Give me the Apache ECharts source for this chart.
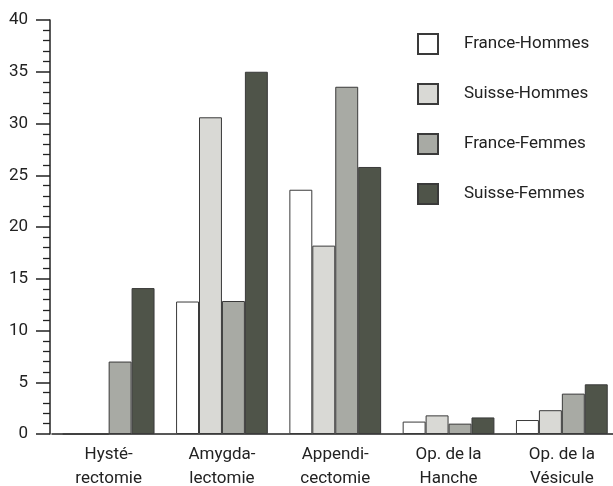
<!DOCTYPE html>
<html>
<head>
<meta charset="utf-8">
<script src="https://cdn.jsdelivr.net/npm/echarts@6/dist/echarts.min.js"></script>
<style>
  html, body { margin: 0; padding: 0; background: #ffffff; }
  #chart { width: 613px; height: 486px; }
</style>
</head>
<body>
<div id="chart"></div>
<script>
// Operation categories (two-line labels)
const categories = ['Hysté-\nrectomie', 'Amygda-\nlectomie', 'Appendi-\ncectomie', 'Op. de la\nHanche', 'Op. de la\nVésicule'];

// Series names
const seriesNames = ['France-Hommes', 'Suisse-Hommes', 'France-Femmes', 'Suisse-Femmes'];

// Values per series, one per category
const franceHommes = [0, 12.8, 23.6, 1.2, 1.35];
const suisseHommes = [0, 30.6, 18.2, 1.8, 2.3];
const franceFemmes = [7.0, 12.85, 33.55, 1.0, 3.9];
const suisseFemmes = [14.1, 35.0, 25.8, 1.6, 4.8];

// Y-axis ticks
const yTicks = [0, 5, 10, 15, 20, 25, 30, 35, 40];

const fills = ['#ffffff', '#d9d9d5', '#a8aaa4', '#4f5449'];
const allValues = [franceHommes, suisseHommes, franceFemmes, suisseFemmes];
const FONT = "'Roboto', 'Liberation Sans', sans-serif";

const chart = echarts.init(document.getElementById('chart'), null, { renderer: 'canvas' });

chart.setOption({
  backgroundColor: '#ffffff',
  animation: false,
  grid: { left: 52, top: 20, width: 566.5, height: 414, containLabel: false, outerBoundsMode: 'none' },
  legend: {
    orient: 'vertical',
    left: 417,
    top: 33,
    padding: 0,
    itemWidth: 20,
    itemHeight: 20,
    itemGap: 28,
    icon: 'rect',
    textStyle: { fontFamily: FONT, fontSize: 17, color: '#222', lineHeight: 20, padding: [0, 0, 0, 21] },
    data: seriesNames
  },
  xAxis: {
    type: 'category',
    data: categories,
    axisLine: { show: true, lineStyle: { color: '#222', width: 1.5 } },
    axisTick: { show: false },
    axisLabel: { fontFamily: FONT, fontSize: 17, color: '#222', lineHeight: 24, margin: 9 }
  },
  yAxis: {
    type: 'value',
    min: yTicks[0],
    max: yTicks[yTicks.length - 1],
    interval: 5,
    offset: 2,
    splitLine: { show: false },
    axisLine: { show: true, lineStyle: { color: '#222', width: 1.5 } },
    axisTick: { show: true, length: 14, lineStyle: { color: '#222', width: 1.5 } },
    minorTick: { show: true, splitNumber: 5, length: 7, lineStyle: { color: '#222', width: 1.3 } },
    axisLabel: { fontFamily: FONT, fontSize: 17, color: '#222', margin: 22 }
  },
  series: seriesNames.map((name, i) => ({
    name: name,
    type: 'bar',
    data: allValues[i],
    barGap: '0%',
    barCategoryGap: '19%',
    itemStyle: { color: fills[i], borderColor: '#3a3a3a', borderWidth: 1 }
  }))
});
</script>
</body>
</html>
